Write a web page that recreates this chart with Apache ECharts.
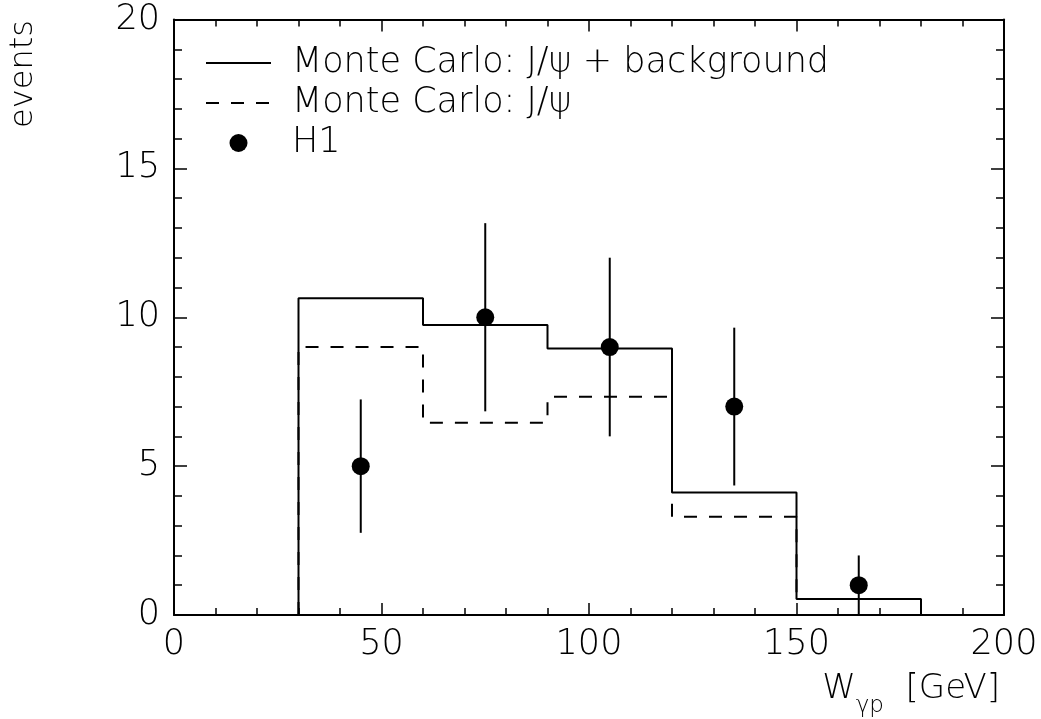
<!DOCTYPE html>
<html>
<head>
<meta charset="utf-8" />
<title>W_gp events</title>
<script src="https://cdn.jsdelivr.net/npm/echarts@6/dist/echarts.min.js"></script>
<style>
  html, body { margin: 0; background: #fff; }
  #main { width: 1041px; height: 719px; }
</style>
</head>
<body>
<div id="main"></div>
<script>
// bins of the histograms (W_gp in GeV)
var binEdges = [30, 60, 90, 120, 150, 180];
var mcTotal = [10.64, 9.74, 8.95, 4.11, 0.54];   // Monte Carlo: J/psi + background
var mcJpsi = [9.0, 6.46, 7.33, 3.30, 0.54];      // Monte Carlo: J/psi
// H1 data points
var h1X = [45, 75, 105, 135, 165];
var h1Y = [5, 10, 9, 7, 1];
var h1Err = [2.24, 3.16, 3.0, 2.65, 1.0];

var seriesNames = ['Monte Carlo: J/ψ + background', 'Monte Carlo: J/ψ', 'H1'];
var font = 'DejaVu Sans';

// histogram outline from edges + contents
function stepLine(edges, vals) {
    var pts = [[edges[0], 0]];
    for (var i = 0; i < vals.length; i++) {
        pts.push([edges[i], vals[i]]);
        pts.push([edges[i + 1], vals[i]]);
    }
    pts.push([edges[edges.length - 1], 0]);
    return pts;
}

var axisLineStyle = { color: '#000', width: 2 };

function xAx(pos, labels) {
    return {
        type: 'value', position: pos, min: 0, max: 200, interval: 50,
        axisLine: { show: true, onZero: false, lineStyle: axisLineStyle },
        axisTick: { show: true, inside: true, length: 12, lineStyle: { color: '#000', width: 1.5 } },
        minorTick: { show: true, splitNumber: 5, length: 7, lineStyle: { color: '#000', width: 1.5 } },
        splitLine: { show: false },
        axisLabel: { show: labels, margin: 12, fontSize: 35, color: '#000', fontFamily: font, fontWeight: 200 }
    };
}
function yAx(pos, labels) {
    return {
        type: 'value', position: pos, min: 0, max: 20, interval: 5,
        axisLine: { show: true, onZero: false, lineStyle: axisLineStyle },
        axisTick: { show: true, inside: true, length: 13, lineStyle: { color: '#000', width: 1.5 } },
        minorTick: { show: true, splitNumber: 5, length: 8, lineStyle: { color: '#000', width: 1.5 } },
        splitLine: { show: false },
        axisLabel: { show: labels, margin: 14, fontSize: 35, color: '#000', fontFamily: font, fontWeight: 200 }
    };
}

var noSymbol = { color: 'rgba(0,0,0,0)', borderWidth: 0 };

var option = {
    backgroundColor: '#fff',
    animation: false,
    grid: { left: 174, right: 37, top: 19.5, bottom: 104 },
    xAxis: [xAx('bottom', true), xAx('top', false)],
    yAxis: [yAx('left', true), yAx('right', false)],
    legend: {
        orient: 'vertical', left: 200, top: 40,
        itemWidth: 65, itemHeight: 18, itemGap: 4,
        selectedMode: false,
        data: [
            { name: seriesNames[0], itemStyle: noSymbol },
            { name: seriesNames[1], itemStyle: noSymbol },
            { name: seriesNames[2] }
        ],
        textStyle: {
            fontSize: 35, lineHeight: 36, color: '#000', fontFamily: font, fontWeight: 200,
            padding: [0, 0, 0, 16]
        }
    },
    graphic: [
        {
            type: 'text', x: 24, y: 74, rotation: Math.PI / 2,
            style: { text: 'events', fontSize: 32, fontFamily: font, fontWeight: 200, fill: '#000',
                     align: 'center', verticalAlign: 'middle' }
        },
        {
            type: 'text', right: 41, top: 672,
            style: {
                text: '{a|W}{s|γp}{a|  [GeV]}', fill: '#000',
                rich: {
                    a: { fontSize: 34, fontFamily: font, fontWeight: 200, lineHeight: 40, verticalAlign: 'top' },
                    s: { fontSize: 23, fontFamily: font, fontWeight: 200, lineHeight: 22, verticalAlign: 'top',
                         padding: [23, 0, 0, 0] }
                }
            }
        }
    ],
    series: [
        {
            name: seriesNames[0], type: 'line', symbol: 'none', z: 3,
            data: stepLine(binEdges, mcTotal),
            lineStyle: { color: '#000', width: 2 }, itemStyle: { color: '#000' }
        },
        {
            name: seriesNames[1], type: 'line', symbol: 'none', z: 2,
            data: stepLine(binEdges, mcJpsi),
            lineStyle: { color: '#000', width: 2, type: [13, 12] }, itemStyle: { color: '#000' }
        },
        {
            name: seriesNames[2], type: 'scatter', symbol: 'circle', symbolSize: 18, z: 5,
            data: h1X.map(function (x, i) { return [x, h1Y[i]]; }),
            itemStyle: { color: '#000', opacity: 1 }
        },
        {
            type: 'custom', z: 4, silent: true,
            data: h1X.map(function (x, i) { return [x, h1Y[i] - h1Err[i], h1Y[i] + h1Err[i]]; }),
            renderItem: function (params, api) {
                var lo = api.coord([api.value(0), api.value(1)]);
                var hi = api.coord([api.value(0), api.value(2)]);
                return {
                    type: 'line',
                    shape: { x1: lo[0], y1: lo[1], x2: hi[0], y2: hi[1] },
                    style: { stroke: '#000', lineWidth: 2 }
                };
            }
        }
    ]
};

var myChart = echarts.init(document.getElementById('main'));
myChart.setOption(option);
</script>
</body>
</html>
